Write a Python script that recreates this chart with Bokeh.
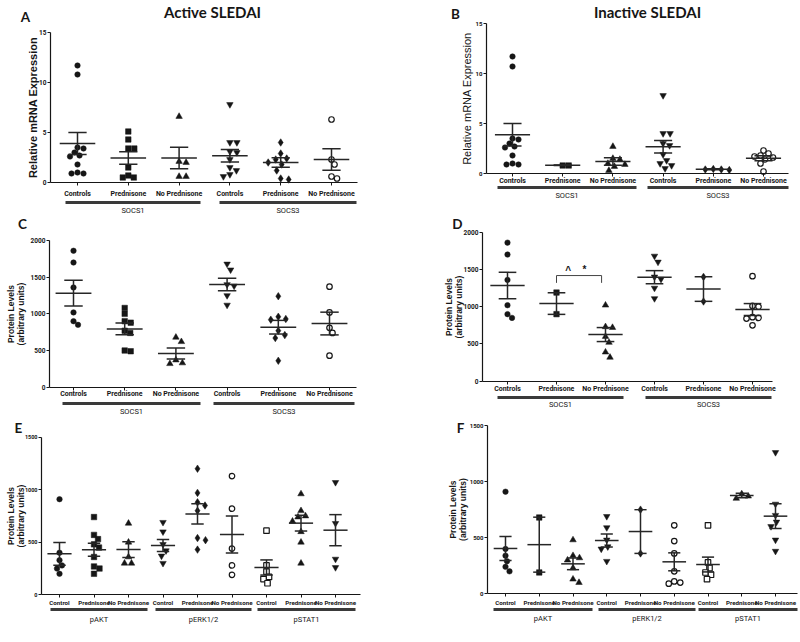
from bokeh.plotting import figure
from bokeh.layouts import column, row
from bokeh.models import Range1d, LinearAxis, FixedTicker
from bokeh.core.properties import value
from bokeh.embed import file_html
from bokeh.resources import INLINE

# ---------------- data ----------------
socs_cats = ["Controls", "Prednisone", "No Prednisone"] * 2
socs_groups = ["SOCS1", "SOCS3"]
phos_cats = ["Control", "Prednisone", "No Prednisone"] * 3
phos_groups = ["pAKT", "pERK1/2", "pSTAT1"]

mrna_ticks = [0, 5, 10, 15]
socs_prot_ticks = [0, 500, 1000, 1500, 2000]
phos_ticks = [0, 500, 1000, 1500]

A_points = [
    [11.7, 10.8, 3.5, 3.4, 3.0, 2.7, 2.6, 1.8, 1.0, 0.9, 0.9],
    [5.1, 4.3, 3.4, 3.4, 1.5, 0.7, 0.5, 0.5],
    [6.6, 2.1, 2.0, 0.6, 0.6],
    [7.8, 4.0, 4.0, 3.1, 3.0, 2.3, 1.5, 1.2, 0.8, 0.6],
    [4.0, 2.9, 2.4, 2.3, 2.0, 1.8, 1.2, 0.4, 0.3],
    [6.3, 2.3, 1.8, 0.6, 0.4],
]
A_mean = [3.9, 2.45, 2.45, 2.67, 2.0, 2.3]
A_sem = [1.1, 0.63, 1.08, 0.62, 0.47, 1.08]

B_points = [
    [11.7, 10.7, 3.5, 3.4, 3.0, 2.7, 2.6, 1.8, 1.0, 0.9, 0.9],
    [0.8, 0.8],
    [2.7, 1.5, 1.4, 1.0, 0.9, 0.7, 0.3],
    [7.8, 4.0, 4.0, 3.0, 2.8, 1.9, 1.3, 1.0, 0.8, 0.5],
    [0.45, 0.4, 0.4, 0.35],
    [2.3, 2.0, 1.8, 1.7, 1.6, 1.4, 1.0, 0.2],
]
B_mean = [3.87, 0.83, 1.2, 2.67, 0.43, 1.53]
B_sem = [1.13, 0.03, 0.38, 0.63, 0.05, 0.25]

C_points = [
    [1860, 1700, 1360, 1020, 900, 850],
    [1080, 1000, 900, 880, 770, 740, 500, 490],
    [680, 620, 370, 330, 320],
    [1680, 1600, 1400, 1380, 1250, 1120],
    [1240, 960, 930, 920, 770, 710, 670, 360],
    [1370, 1020, 810, 740, 430],
]
C_mean = [1282, 795, 459, 1400, 818, 868]
C_sem = [175, 80, 75, 85, 93, 155]

D_points = [
    [1860, 1700, 1360, 1020, 900, 850],
    [1190, 900],
    [1020, 730, 720, 600, 520, 390, 320],
    [1680, 1600, 1400, 1370, 1250, 1110],
    [1400, 1070],
    [1410, 1010, 1000, 860, 850, 840, 750],
]
D_mean = [1284, 1042, 626, 1396, 1237, 962]
D_sem = [177, 145, 94, 88, 165, 80]

E_points = [
    [910, 400, 330, 280, 250, 200],
    [740, 570, 530, 480, 450, 360, 270, 250, 200],
    [680, 500, 360, 300, 300],
    [690, 600, 480, 420, 370, 300],
    [1200, 970, 880, 850, 800, 540, 520, 430],
    [1130, 820, 440, 280, 190],
    [610, 280, 220, 170, 150, 110],
    [960, 800, 750, 740, 700, 600, 500, 300],
    [1070, 680, 340, 260],
]
E_mean = [390, 428, 431, 469, 770, 574, 260, 682, 615]
E_sem = [108, 62, 75, 57, 97, 175, 72, 75, 148]

F_points = [
    [910, 400, 340, 290, 240, 200],
    [680, 190],
    [480, 340, 320, 300, 230, 130, 100],
    [690, 590, 480, 420, 400, 290],
    [750, 360],
    [610, 470, 360, 200, 110, 100, 90],
    [610, 280, 230, 190, 170, 130],
    [890, 870, 850],
    [1260, 800, 700, 640, 600, 480, 380],
]
F_mean = [404, 438, 267, 475, 555, 285, 261, 876, 692]
F_sem = [107, 245, 52, 58, 195, 80, 66, 21, 110]

# ---------------- styles ----------------
INK = "#161616"
LINE = "#262626"
BAR = "#3a3a3a"
CAT = "Roboto"
SANS = "Liberation Sans"
HEAD = "Lato"

socs_markers = ["circle", "square", "triangle", "inverted_triangle", "diamond", "circle"]
socs_open = [False, False, False, False, False, True]
phos_markers = ["circle", "square", "triangle", "inverted_triangle", "diamond",
                "circle", "square", "triangle", "inverted_triangle"]
phos_open = [False, False, False, False, False, True, True, False, False]
marker_size = {"circle": 5.5, "square": 5.5, "triangle": 6.5, "inverted_triangle": 6.5, "diamond": 7.5}

# ---------------- layout (page pixels) ----------------
PROT_LABEL = "Protein Levels\n(arbitrary units)"
LAYOUT = {
    "A": dict(fig=(0, 0, 400, 214), cx0=77, dx=50.8, py0=182, ppu=10.0, ax=50, axend=357,
              cat_std=4, bar=202, bars=[(65, 200), (219, 356)], grp=209.5,
              tick_font="6.5px", lab="Relative mRNA Expression", lab_font="11px", lab_bold=True,
              lab_std=-3, cat_font="7px", grp_font="7.5px",
              letter=("A", 25, 16), title=("Active SLEDAI", 212, 11)),
    "B": dict(fig=(400, 0, 400, 214), cx0=512, dx=50.2, py0=173, ppu=10.0, ax=486, axend=788,
              cat_std=0, bar=187, bars=[(497, 636), (647, 788)], grp=195,
              tick_font="6px", lab="Relative mRNA Expression", lab_font="11px", lab_bold=False,
              lab_std=0, cat_font="7px", grp_font="7.5px",
              letter=("B", 455, 13), title=("Inactive SLEDAI", 647, 11)),
    "C": dict(fig=(0, 214, 400, 204), cx0=73, dx=51.2, py0=386.7, ppu=146.7 / 2000, ax=49, axend=356,
              cat_std=0, bar=403, bars=[(62, 200), (213, 354)], grp=411,
              tick_font="6.5px", lab=PROT_LABEL, lab_font="8.5px", lab_bold=True,
              lab_std=2, cat_font="7px", grp_font="7.5px",
              letter=("C", 22, 223), title=None),
    "D": dict(fig=(400, 214, 400, 204), cx0=507, dx=49.0, py0=380.7, ppu=149.0 / 2000, ax=482, axend=772,
              cat_std=1, bar=397, bars=[(497, 623), (645, 771)], grp=404,
              tick_font="6.5px", lab=PROT_LABEL, lab_font="8.5px", lab_bold=True,
              lab_std=-3, cat_font="7px", grp_font="7.5px",
              letter=("D", 457, 223), title=None),
    "E": dict(fig=(0, 418, 400, 224), cx0=59, dx=34.5, py0=594.3, ppu=157.6 / 1500, ax=41, axend=360,
              cat_std=1, bar=609, bars=[(50, 147), (155, 251), (257, 355)], grp=619,
              tick_font="5.5px", lab=PROT_LABEL, lab_font="8.5px", lab_bold=True,
              lab_std=-4, cat_font="6.2px", grp_font="7.5px",
              letter=("E", 18, 427), title=None),
    "F": dict(fig=(400, 418, 400, 224), cx0=505, dx=33.75, py0=593.3, ppu=168.3 / 1500, ax=487, axend=797,
              cat_std=2, bar=609, bars=[(493, 592), (598, 695), (698, 797)], grp=618,
              tick_font="6px", lab=PROT_LABEL, lab_font="8.5px", lab_bold=True,
              lab_std=-1, cat_font="6.2px", grp_font="7.5px",
              letter=("F", 460, 427), title=None),
}


def swarm(vals, ppu, msize):
    """Deterministic beeswarm offsets in pixels."""
    order = sorted(range(len(vals)), key=lambda i: -vals[i])
    placed = []
    offs = [0.0] * len(vals)
    for idx in order:
        sy = vals[idx] * ppu
        chosen = 0.0
        for k in range(0, 80):
            found = False
            for sgn in ((1,) if k == 0 else (1, -1)):
                o = sgn * k * 0.5
                if all((o - po) ** 2 + (sy - ps) ** 2 >= msize ** 2 for po, ps in placed):
                    chosen = o
                    found = True
                    break
            if found:
                break
        placed.append((chosen, sy))
        offs[idx] = chosen
    return offs


def make_panel(key, cats, groups, pts, means, sems, markers, opens, ticks):
    L = LAYOUT[key]
    fx, fy, w, h = L["fig"]
    cx0, dx, py0, ppu = L["cx0"], L["dx"], L["py0"], L["ppu"]

    def X(px):
        return (px - cx0) / dx

    def Y(py):
        return (py0 - py) / ppu

    p = figure(width=w, height=h, x_range=Range1d(X(fx), X(fx + w)),
               y_range=Range1d(Y(fy + h), Y(fy)), x_axis_type=None, y_axis_type=None,
               toolbar_location=None, output_backend="svg", min_border=0,
               outline_line_color=None, background_fill_color="white",
               border_fill_color="white")

    yax = LinearAxis(fixed_location=X(L["ax"]), bounds=(ticks[0], ticks[-1]),
                     ticker=FixedTicker(ticks=ticks, minor_ticks=[]),
                     axis_label=L["lab"], axis_label_text_font=SANS,
                     axis_label_text_font_size=L["lab_font"],
                     axis_label_text_font_style="bold" if L["lab_bold"] else "normal",
                     axis_label_text_color=INK, axis_label_standoff=L["lab_std"],
                     axis_label_text_line_height=0.95,
                     major_label_text_font=CAT, major_label_text_font_style="bold",
                     major_label_text_font_size=L["tick_font"], major_label_text_color=INK,
                     major_label_standoff=1, major_tick_out=3, major_tick_in=0,
                     minor_tick_line_color=None, axis_line_color=INK, axis_line_width=1.2,
                     major_tick_line_color=INK)
    p.add_layout(yax, "left")

    n = len(cats)
    xax = LinearAxis(fixed_location=0, bounds=(X(L["ax"]), X(L["axend"])),
                     ticker=FixedTicker(ticks=list(range(n)), minor_ticks=[]),
                     major_label_overrides={i: c for i, c in enumerate(cats)},
                     major_label_text_font=CAT, major_label_text_font_style="bold",
                     major_label_text_font_size=L["cat_font"], major_label_text_color=INK,
                     major_label_standoff=L["cat_std"], major_tick_out=3, major_tick_in=0,
                     minor_tick_line_color=None, axis_line_color=INK, axis_line_width=1.2,
                     major_tick_line_color=INK)
    p.add_layout(xax, "below")

    # scatter points
    for i, vals in enumerate(pts):
        m = markers[i]
        s = marker_size[m]
        offs = swarm(vals, ppu, s + 0.3)
        xs = [i + o / dx for o in offs]
        if opens[i]:
            p.scatter(xs, vals, marker=m, size=s, fill_color="white", line_color=INK, line_width=1.2)
        else:
            p.scatter(xs, vals, marker=m, size=s, fill_color=INK, line_color=INK, line_width=0.5)

    # mean and SEM
    idx = list(range(n))
    mw, sw = 0.35, 0.18
    up = [mm + ss for mm, ss in zip(means, sems)]
    lo = [mm - ss for mm, ss in zip(means, sems)]
    p.segment(x0=[i - mw for i in idx], x1=[i + mw for i in idx], y0=means, y1=means,
              line_width=1.5, line_color=LINE)
    p.segment(x0=[i - sw for i in idx], x1=[i + sw for i in idx], y0=up, y1=up,
              line_width=1.5, line_color=LINE)
    p.segment(x0=[i - sw for i in idx], x1=[i + sw for i in idx], y0=lo, y1=lo,
              line_width=1.5, line_color=LINE)
    p.segment(x0=idx, x1=idx, y0=lo, y1=up, line_width=1.5, line_color=LINE)

    # group bars and group labels
    for (b0, b1), g in zip(L["bars"], groups):
        p.segment(x0=[X(b0)], x1=[X(b1)], y0=[Y(L["bar"])], y1=[Y(L["bar"])],
                  line_width=3, line_color=BAR)
        p.text(x=[X((b0 + b1) / 2)], y=[Y(L["grp"])], text=[g], text_align="center",
               text_baseline="middle", text_font=value(CAT), text_font_size=L["grp_font"],
               text_color=INK)

    lt, lx, ly = L["letter"]
    p.text(x=[X(lx)], y=[Y(ly)], text=[lt], text_align="center", text_baseline="middle",
           text_font=value(HEAD), text_font_style="bold", text_font_size="13.5px", text_color=INK)
    if L["title"]:
        tt, tx, ty = L["title"]
        p.text(x=[X(tx)], y=[Y(ty)], text=[tt], text_align="center", text_baseline="middle",
               text_font=value(HEAD), text_font_style="bold", text_font_size="15px",
               text_color=INK)
    return p


pA = make_panel("A", socs_cats, socs_groups, A_points, A_mean, A_sem,
                socs_markers, socs_open, mrna_ticks)
pB = make_panel("B", socs_cats, socs_groups, B_points, B_mean, B_sem,
                socs_markers, socs_open, mrna_ticks)
pC = make_panel("C", socs_cats, socs_groups, C_points, C_mean, C_sem,
                socs_markers, socs_open, socs_prot_ticks)
pD = make_panel("D", socs_cats, socs_groups, D_points, D_mean, D_sem,
                socs_markers, socs_open, socs_prot_ticks)
pE = make_panel("E", phos_cats, phos_groups, E_points, E_mean, E_sem,
                phos_markers, phos_open, phos_ticks)
pF = make_panel("F", phos_cats, phos_groups, F_points, F_mean, F_sem,
                phos_markers, phos_open, phos_ticks)

# significance bracket in D (Prednisone vs No Prednisone, SOCS1)
br_y, br_drop = 1418, 1320
pD.segment(x0=[1, 1, 1.92], x1=[1.92, 1, 1.92], y0=[br_y, br_y, br_y], y1=[br_y, br_drop, br_drop],
           line_width=1, line_color="#444444")
pD.text(x=[1.24, 1.57], y=[1480, 1495], text=["^", "*"], text_align="center",
        text_baseline="middle", text_font=value(SANS), text_font_style="bold",
        text_font_size="10px", text_color=INK)

layout = column(row(pA, pB), row(pC, pD), row(pE, pF))
open("out.html", "w").write(file_html(layout, INLINE))
